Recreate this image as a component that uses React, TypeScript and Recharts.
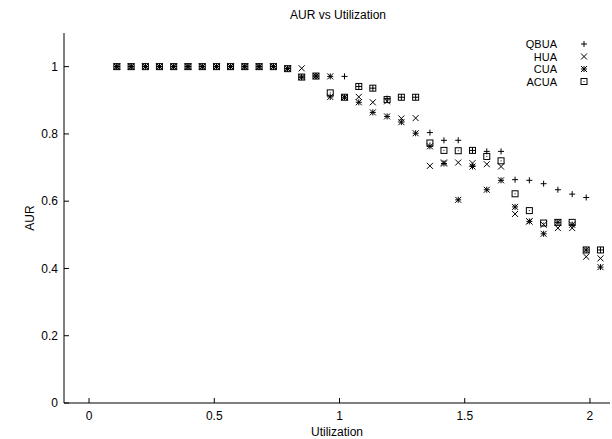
import { Customized, Scatter, ScatterChart, XAxis, YAxis } from "recharts";

// utilization values where the four algorithms were measured
const utilization = [
  0.111, 0.168, 0.225, 0.281, 0.338, 0.395, 0.452, 0.509, 0.565, 0.622, 0.679, 0.736,
  0.793, 0.849, 0.906, 0.963, 1.02, 1.077, 1.133, 1.19, 1.247, 1.304, 1.361, 1.417,
  1.474, 1.531, 1.588, 1.645, 1.701, 1.758, 1.815, 1.872, 1.929, 1.985, 2.042,
];

const qbua = [
  1, 1, 1, 1, 1, 1, 1, 1, 1, 1, 1, 1,
  0.994, 0.969, 0.972, 0.971, 0.971, 0.941, 0.936, 0.905, 0.909, 0.909, 0.804, 0.781,
  0.781, 0.751, 0.748, 0.748, 0.664, 0.662, 0.652, 0.634, 0.621, 0.611, 0.455,
];

const hua = [
  1, 1, 1, 1, 1, 1, 1, 1, 1, 1, 1, 1,
  0.994, 0.995, 0.972, 0.971, 0.909, 0.91, 0.894, 0.897, 0.846, 0.847, 0.705, 0.715,
  0.715, 0.713, 0.71, 0.703, 0.562, 0.54, 0.53, 0.52, 0.52, 0.435, 0.43,
];

const cua = [
  1, 1, 1, 1, 1, 1, 1, 1, 1, 1, 1, 1,
  0.994, 0.969, 0.972, 0.91, 0.909, 0.894, 0.864, 0.852, 0.835, 0.802, 0.763, 0.712,
  0.604, 0.703, 0.634, 0.662, 0.583, 0.54, 0.503, 0.537, 0.53, 0.455, 0.404,
];

const acua = [
  1, 1, 1, 1, 1, 1, 1, 1, 1, 1, 1, 1,
  0.994, 0.969, 0.972, 0.922, 0.909, 0.941, 0.936, 0.902, 0.909, 0.909, 0.773, 0.751,
  0.75, 0.751, 0.733, 0.72, 0.622, 0.572, 0.535, 0.537, 0.537, 0.455, 0.455,
];

const xTicks = [0, 0.5, 1, 1.5, 2];
const yTicks = [0, 0.2, 0.4, 0.6, 0.8, 1];

const series = [
  { name: "QBUA", values: qbua, marker: "plus" },
  { name: "HUA", values: hua, marker: "cross" },
  { name: "CUA", values: cua, marker: "star" },
  { name: "ACUA", values: acua, marker: "box" },
];

const FONT = '"Liberation Sans", Arial, Helvetica, sans-serif';

const Marker = ({ kind, cx, cy }: { kind: string; cx: number; cy: number }) => {
  const r = 3;
  const plus = (
    <>
      <line x1={cx - r} y1={cy} x2={cx + r} y2={cy} />
      <line x1={cx} y1={cy - r} x2={cx} y2={cy + r} />
    </>
  );
  const cross = (
    <>
      <line x1={cx - r} y1={cy - r} x2={cx + r} y2={cy + r} />
      <line x1={cx - r} y1={cy + r} x2={cx + r} y2={cy - r} />
    </>
  );
  return (
    <g stroke="black" strokeWidth={1} fill="none">
      {kind === "plus" && plus}
      {kind === "cross" && cross}
      {kind === "star" && (
        <>
          {plus}
          {cross}
        </>
      )}
      {kind === "box" && (
        <>
          <rect x={cx - r} y={cy - r} width={2 * r} height={2 * r} />
          <rect x={cx - 0.5} y={cy - 0.5} width={1} height={1} fill="black" stroke="none" />
        </>
      )}
    </g>
  );
};

const Decorations = () => (
  <g fontFamily={FONT} fontSize={12} fill="black">
    <text x={338} y={19} textAnchor="middle">AUR vs Utilization</text>
    <text x={337} y={436} textAnchor="middle">Utilization</text>
    <text x={34} y={218} textAnchor="middle" transform="rotate(-90 34 218)">AUR</text>
    {series.map((s, i) => (
      <g key={s.name}>
        <text x={557} y={48 + i * 12.5} textAnchor="end" fontSize={11}>{s.name}</text>
        <Marker kind={s.marker} cx={584} cy={44 + i * 12.5} />
      </g>
    ))}
  </g>
);

const tickStyle = { fill: "black", fontSize: 12, fontFamily: FONT };

export default function App() {
  return (
    <div style={{ position: "absolute", left: 0, top: 0, background: "white" }}>
      <ScatterChart width={612} height={439} margin={{ top: 33, right: 2, bottom: 0, left: 24 }}>
        <XAxis
          type="number"
          dataKey="x"
          domain={[-0.1, 2.08]}
          ticks={xTicks}
          allowDataOverflow
          height={36}
          tickSize={-5}
          tickMargin={13}
          tick={tickStyle}
          axisLine={{ stroke: "black" }}
          tickLine={{ stroke: "black" }}
        />
        <XAxis
          xAxisId="top"
          orientation="top"
          type="number"
          domain={[-0.1, 2.08]}
          ticks={xTicks}
          allowDataOverflow
          height={0}
          tickSize={-5}
          tickFormatter={() => ""}
          axisLine={{ stroke: "black" }}
          tickLine={{ stroke: "black" }}
        />
        <YAxis
          type="number"
          dataKey="y"
          domain={[0, 1.1]}
          ticks={yTicks}
          allowDataOverflow
          width={40}
          tickSize={-5}
          tickMargin={11}
          tick={tickStyle}
          axisLine={{ stroke: "black" }}
          tickLine={{ stroke: "black" }}
        />
        <YAxis
          yAxisId="right"
          orientation="right"
          type="number"
          domain={[0, 1.1]}
          ticks={yTicks}
          allowDataOverflow
          width={0}
          tickSize={-5}
          tickFormatter={() => ""}
          axisLine={{ stroke: "black" }}
          tickLine={{ stroke: "black" }}
        />
        {series.map((s) => (
          <Scatter
            key={s.name}
            name={s.name}
            data={utilization.map((x, i) => ({ x, y: s.values[i] }))}
            isAnimationActive={false}
            shape={(p: any) => <Marker kind={s.marker} cx={p.cx} cy={p.cy} />}
          />
        ))}
        <Customized component={Decorations} />
      </ScatterChart>
    </div>
  );
}
